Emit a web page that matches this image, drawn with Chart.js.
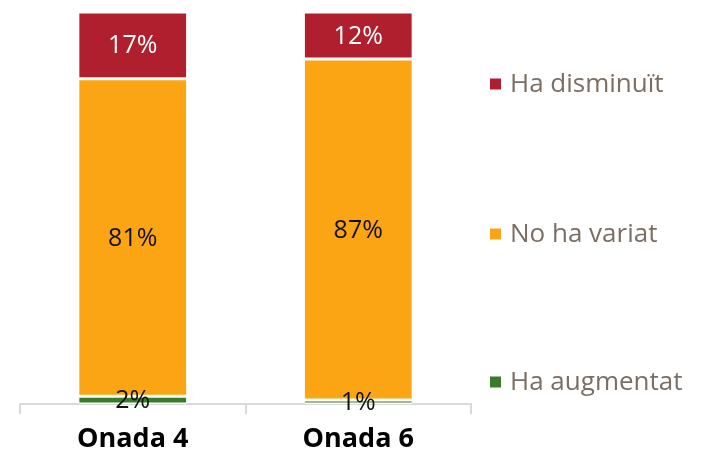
<!DOCTYPE html>
<html><head><meta charset="utf-8">
<script src="https://cdn.jsdelivr.net/npm/chart.js@4/dist/chart.umd.min.js"></script>
<style>html,body{margin:0;padding:0;background:#fff;}#wrap{width:704px;height:450px;}</style>
</head><body><div id="wrap"><canvas id="c" width="704" height="450"></canvas></div>
<script>
const categories = ["Onada 4", "Onada 6"];
const seriesNames = ["Ha augmentat", "No ha variat", "Ha disminuït"];
const haAugmentat = [2, 1];
const noHaVariat = [81, 87];
const haDisminuit = [17, 12];
const colors = ["#3B7A2A", "#FBA414", "#B01F2E"];
const labelColors = ["#111", "#111", "#fff"];
const FONT = "'Open Sans', 'DejaVu Sans', sans-serif";

const valueLabels = {
  id: 'valueLabels',
  afterDatasetsDraw(chart) {
    const ctx = chart.ctx;
    ctx.save();
    ctx.font = "25px " + FONT;
    ctx.textAlign = 'center';
    ctx.textBaseline = 'middle';
    chart.data.datasets.forEach((ds, di) => {
      chart.getDatasetMeta(di).data.forEach((bar, i) => {
        const p = bar.getProps(['x', 'y', 'base'], true);
        ctx.fillStyle = labelColors[di];
        ctx.fillText(ds.data[i] + '%', p.x, (p.y + p.base) / 2 + 1);
      });
    });
    ctx.restore();
  }
};

const sideLegend = {
  id: 'sideLegend',
  afterDraw(chart) {
    const ctx = chart.ctx, a = chart.chartArea;
    const ys = [a.bottom - 22, (a.top + a.bottom) / 2 + 26, a.top + 72];
    ctx.save();
    ctx.font = "26px " + FONT;
    ctx.textBaseline = 'middle';
    ctx.textAlign = 'left';
    for (let i = 0; i < seriesNames.length; i++) {
      const y = ys[i];
      ctx.fillStyle = colors[i];
      ctx.fillRect(a.right + 19, y - 5.5, 11, 11);
      ctx.fillStyle = '#7B6E64';
      ctx.fillText(seriesNames[i], a.right + 39, y + 1);
    }
    ctx.restore();
  }
};

new Chart(document.getElementById('c'), {
  type: 'bar',
  data: {
    labels: categories,
    datasets: [
      { label: seriesNames[0], data: haAugmentat, backgroundColor: colors[0] },
      { label: seriesNames[1], data: noHaVariat, backgroundColor: colors[1] },
      { label: seriesNames[2], data: haDisminuit, backgroundColor: colors[2] }
    ].map(d => Object.assign(d, {
      borderColor: '#ffffff',
      borderWidth: { top: 1.5, bottom: 1.5, left: 0, right: 0 },
      borderSkipped: false,
      barPercentage: 0.475,
      categoryPercentage: 1
    }))
  },
  options: {
    responsive: false,
    animation: false,
    layout: { padding: { left: 20, right: 233, top: 12, bottom: -15 } },
    plugins: { legend: { display: false }, tooltip: { enabled: false } },
    scales: {
      x: {
        stacked: true,
        grid: { display: true, drawOnChartArea: false, drawTicks: true, tickLength: 10, color: '#d9d9d9', lineWidth: 2, offset: true },
        border: { display: true, color: '#d9d9d9', width: 2 },
        ticks: { color: '#000', font: { family: FONT, size: 27, weight: 'bold', lineHeight: 1 }, padding: 12 }
      },
      y: { stacked: true, display: false, min: 0, max: 100 }
    }
  },
  plugins: [valueLabels, sideLegend]
});
</script></body></html>
